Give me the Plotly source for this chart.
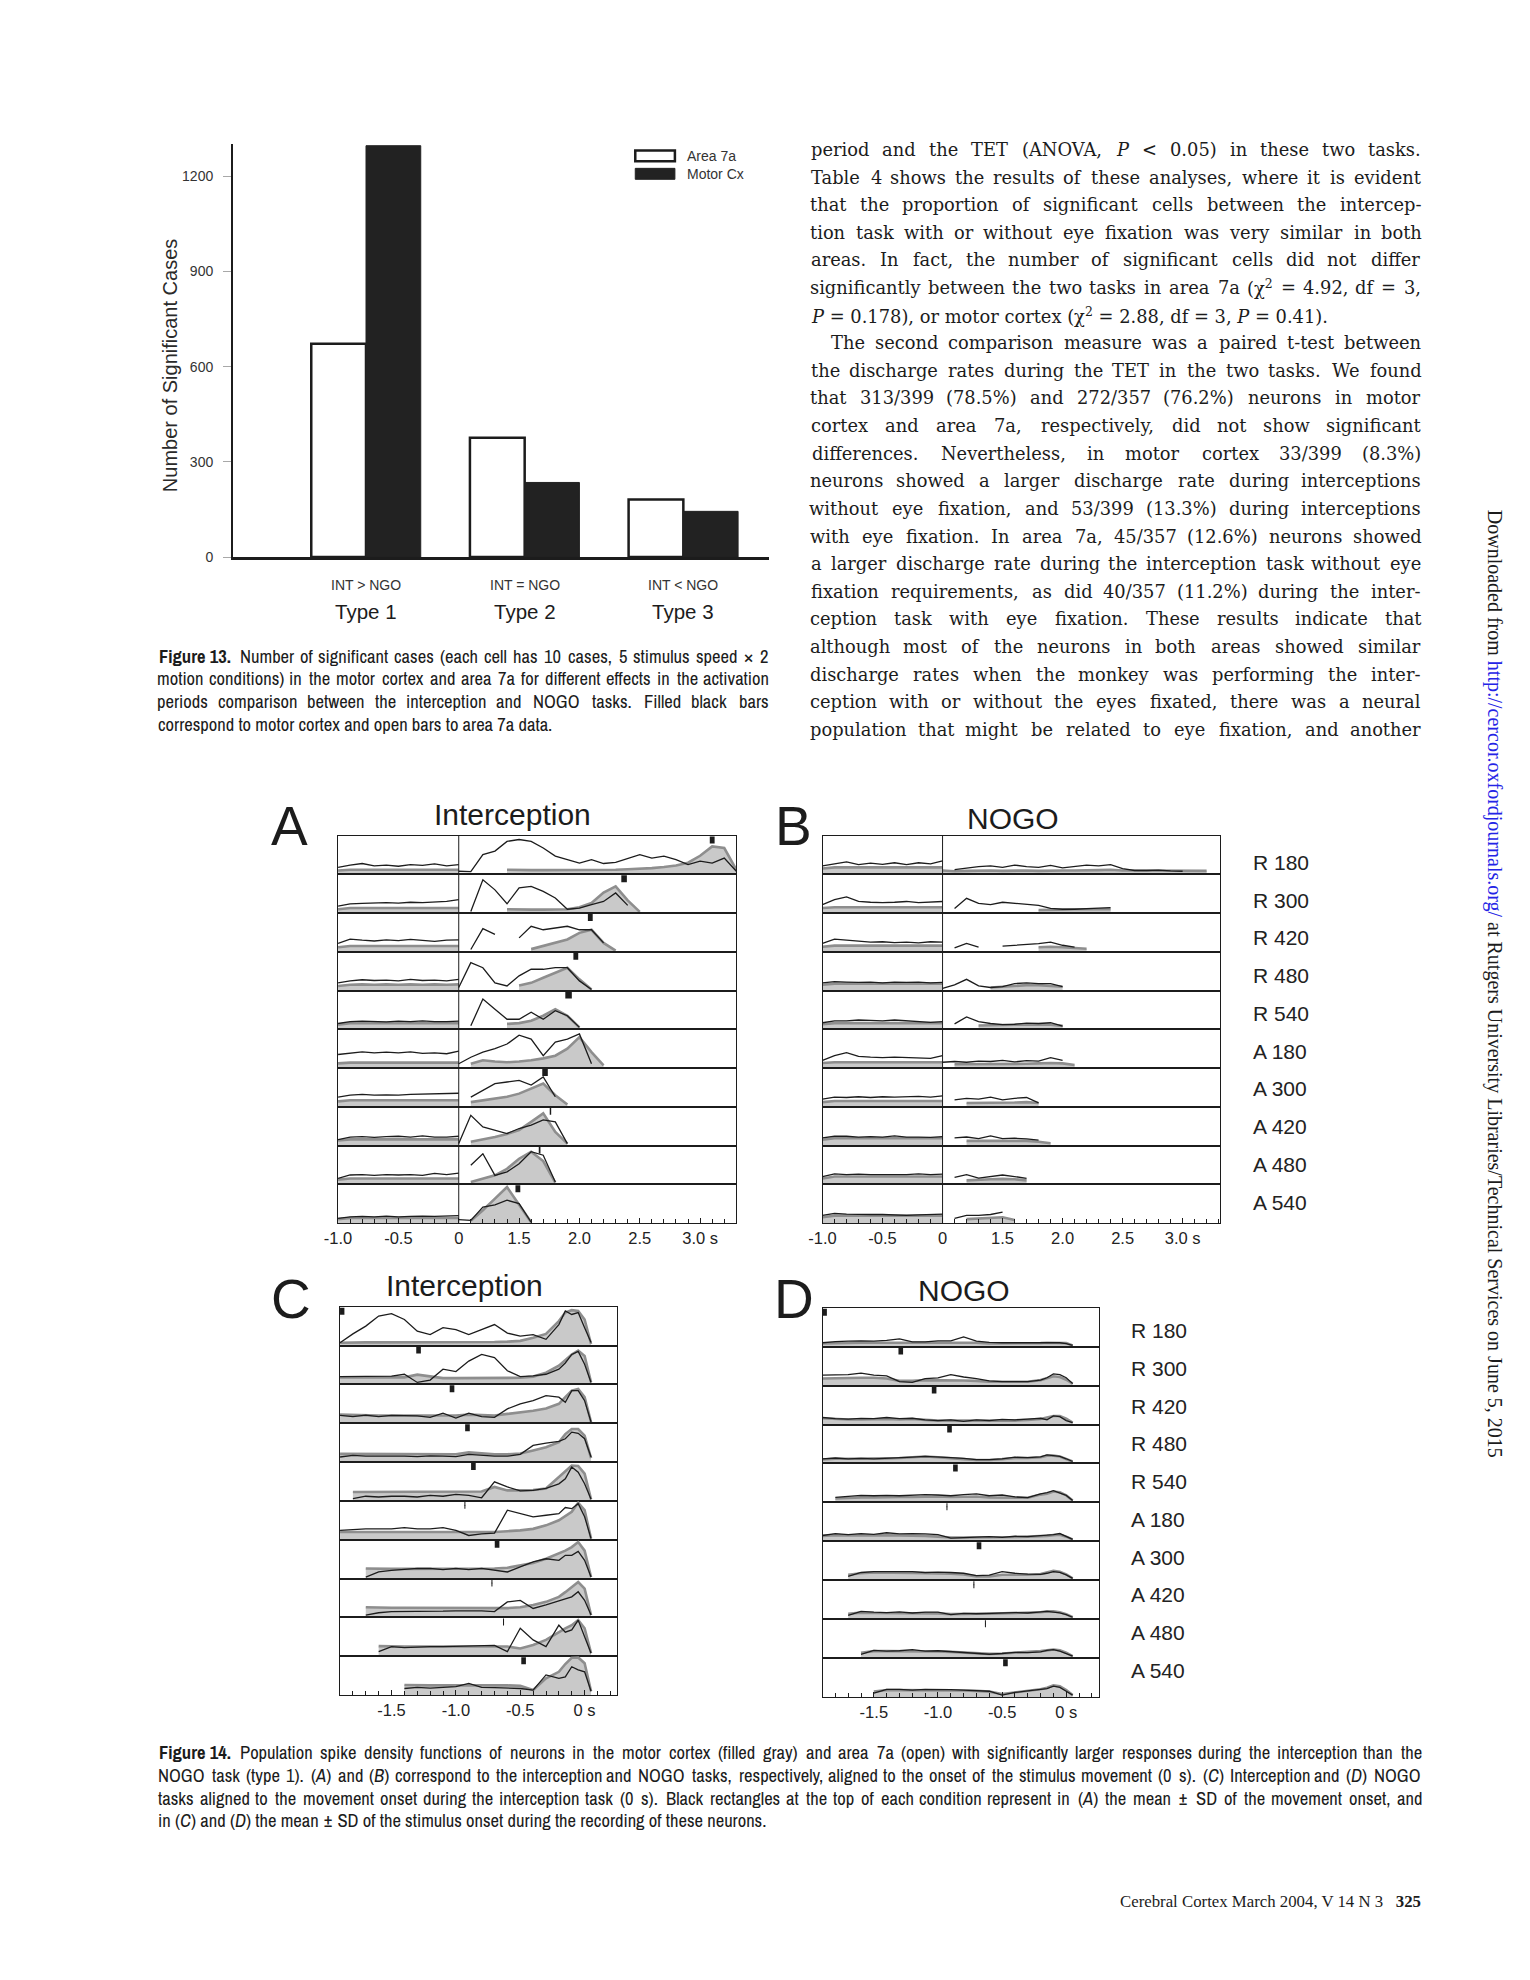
import os
import re
import struct

import plotly.graph_objects as go

W, H = 1530, 1980
PAGE_MARGIN = 8          # default body margin of the html page
N = None

# ---------------- Figure 13: bar chart ----------------
TYPES = ["Type 1", "Type 2", "Type 3"]
CONTRASTS = ["INT > NGO", "INT = NGO", "INT < NGO"]
AREA_7A = [672, 376, 181]
MOTOR_CX = [1296, 235, 144]
Y_TICKS = [0, 300, 600, 900, 1200]

# ---------------- Figure 14: spike density functions ----------------
CONDITIONS = ["R 180", "R 300", "R 420", "R 480", "R 540",
              "A 180", "A 300", "A 420", "A 480", "A 540"]

# panels A/B: pre-stimulus segment (-1..0 s) and post segment (axis shown as 1.0..3.3 s)
AB_PRE_T = [-1.0, -0.9, -0.8, -0.7, -0.6, -0.5, -0.4, -0.3, -0.2, -0.1, 0.0]
AB_POST_T = [0.0, 0.1, 0.2, 0.3, 0.4, 0.5, 0.6, 0.7, 0.8, 0.9, 1.0, 1.1,
             1.2, 1.3, 1.4, 1.5, 1.6, 1.7, 1.8, 1.9, 2.0, 2.1, 2.2, 2.3]
AB_TICKS = [-1.0, -0.5, 0.0, 0.5, 1.0, 1.5, 2.0]
AB_TICK_TEXT = ["-1.0", "-0.5", "0", "1.5", "2.0", "2.5", "3.0 s"]

A_PRE_7A = [
    [0.18, 0.24, 0.28, 0.22, 0.24, 0.21, 0.25, 0.23, 0.27, 0.22, 0.25],
    [0.18, 0.24, 0.25, 0.26, 0.27, 0.26, 0.28, 0.27, 0.29, 0.30, 0.35],
    [0.22, 0.33, 0.30, 0.28, 0.31, 0.29, 0.32, 0.29, 0.27, 0.30, 0.31],
    [0.20, 0.25, 0.28, 0.26, 0.27, 0.25, 0.29, 0.26, 0.27, 0.25, 0.29],
    [0.15, 0.20, 0.21, 0.20, 0.19, 0.21, 0.20, 0.22, 0.20, 0.20, 0.21],
    [0.35, 0.38, 0.42, 0.39, 0.41, 0.39, 0.42, 0.38, 0.39, 0.37, 0.44],
    [0.25, 0.30, 0.32, 0.30, 0.31, 0.30, 0.32, 0.33, 0.34, 0.34, 0.35],
    [0.15, 0.22, 0.23, 0.21, 0.23, 0.24, 0.22, 0.25, 0.22, 0.22, 0.24],
    [0.15, 0.24, 0.25, 0.23, 0.25, 0.24, 0.25, 0.23, 0.28, 0.25, 0.29],
    [0.12, 0.16, 0.17, 0.16, 0.18, 0.16, 0.17, 0.18, 0.17, 0.18, 0.19],
]
A_PRE_MC = [
    [0.10, 0.12, 0.12, 0.12, 0.11, 0.12, 0.12, 0.11, 0.12, 0.12, 0.12],
    [0.10, 0.13, 0.13, 0.13, 0.13, 0.13, 0.13, 0.13, 0.13, 0.13, 0.13],
    [0.12, 0.15, 0.15, 0.15, 0.15, 0.15, 0.15, 0.15, 0.15, 0.15, 0.15],
    [0.12, 0.15, 0.16, 0.15, 0.16, 0.15, 0.16, 0.15, 0.16, 0.15, 0.16],
    [0.12, 0.16, 0.16, 0.16, 0.16, 0.16, 0.16, 0.16, 0.16, 0.16, 0.16],
    [0.12, 0.14, 0.14, 0.14, 0.14, 0.14, 0.14, 0.14, 0.14, 0.14, 0.14],
    [0.14, 0.17, 0.17, 0.17, 0.17, 0.17, 0.17, 0.17, 0.17, 0.17, 0.17],
    [0.13, 0.16, 0.16, 0.16, 0.16, 0.16, 0.16, 0.16, 0.16, 0.16, 0.16],
    [0.12, 0.15, 0.15, 0.15, 0.15, 0.15, 0.15, 0.15, 0.15, 0.15, 0.15],
    [0.10, 0.13, 0.13, 0.13, 0.13, 0.13, 0.13, 0.13, 0.13, 0.13, 0.13],
]
A_POST_7A = [
    [0.08, 0.07, 0.51, 0.60, 0.85, 0.90, 0.85, 0.68, 0.47, 0.38, 0.29, 0.38,
     0.28, 0.31, 0.42, 0.51, 0.42, 0.47, 0.38, 0.25, 0.34, 0.29, 0.42, 0.08],
    [N, 0.04, 0.86, 0.60, 0.24, 0.65, 0.69, 0.56, 0.39, 0.10, 0.13, 0.22, 0.30, 0.52, 0.20],
    [N, 0.06, 0.60, 0.45, N, 0.36, 0.66, 0.57, 0.62, 0.66, 0.57, 0.57, 0.23],
    [0.08, 0.72, 0.59, 0.20, 0.12, 0.38, 0.55, 0.55, 0.59, 0.59, 0.25, 0.03],
    [N, 0.09, 0.78, 0.52, 0.26, 0.26, 0.44, 0.26, 0.48, 0.35, 0.05],
    [0.11, 0.28, 0.41, 0.50, 0.62, 0.85, 0.75, 0.32, 0.67, 0.75, 0.88, 0.11],
    [N, 0.25, 0.43, 0.60, 0.64, 0.68, 0.56, 0.77, 0.26],
    [0.05, 0.78, 0.48, 0.40, 0.31, 0.44, 0.53, 0.66, 0.61, 0.05],
    [N, 0.49, 0.79, 0.23, 0.32, 0.53, 0.84, 0.75, 0.06],
    [0.09, 0.07, 0.41, 0.47, 0.59, 0.50, 0.02],
]
A_POST_MC = [
    [N, N, N, N, 0.12, 0.11, 0.11, 0.11, 0.11, 0.11, 0.11, 0.12,
     0.12, 0.12, 0.13, 0.14, 0.16, 0.19, 0.23, 0.30, 0.48, 0.72, 0.68, 0.12],
    [N, N, N, N, 0.10, 0.09, 0.09, 0.09, 0.09, 0.10, 0.15, 0.26, 0.53, 0.69, 0.33, 0.03],
    [N, N, N, N, N, N, 0.07, 0.15, 0.23, 0.32, 0.49, 0.57, 0.23, 0.03],
    [N, N, N, N, N, 0.13, 0.20, 0.33, 0.46, 0.59, 0.29, 0.03],
    [N, N, N, N, 0.14, 0.16, 0.22, 0.35, 0.52, 0.35, 0.05],
    [N, 0.11, 0.20, 0.17, 0.15, 0.17, 0.20, 0.25, 0.32, 0.50, 0.80, 0.41, 0.07],
    [N, 0.12, 0.17, 0.21, 0.26, 0.34, 0.47, 0.60, 0.30, 0.06],
    [N, 0.10, 0.16, 0.22, 0.30, 0.40, 0.61, 0.83, 0.35, 0.05],
    [N, 0.06, 0.15, 0.23, 0.40, 0.66, 0.84, 0.60, 0.04],
    [N, 0.06, 0.33, 0.63, 0.93, 0.47, 0.02],
]
A_MOVE_ONSET = [2.10, 1.37, 1.09, 0.97, 0.91, N, 0.715, 0.76, 0.67, 0.49]
A_MOVE_SD = [0.02, 0.023, 0.02, 0.02, 0.027, N, 0.023, 0.006, 0.007, 0.02]

B_PRE_7A = [
    [0.22, 0.27, 0.32, 0.25, 0.29, 0.26, 0.30, 0.25, 0.30, 0.27, 0.35],
    [0.22, 0.35, 0.42, 0.30, 0.28, 0.27, 0.28, 0.30, 0.27, 0.28, 0.30],
    [0.22, 0.33, 0.30, 0.27, 0.25, 0.26, 0.24, 0.25, 0.23, 0.26, 0.25],
    [0.20, 0.23, 0.22, 0.21, 0.22, 0.20, 0.22, 0.21, 0.22, 0.20, 0.21],
    [0.17, 0.22, 0.22, 0.24, 0.23, 0.22, 0.24, 0.22, 0.20, 0.18, 0.20],
    [0.20, 0.32, 0.40, 0.30, 0.28, 0.27, 0.28, 0.27, 0.26, 0.25, 0.32],
    [0.20, 0.25, 0.24, 0.26, 0.24, 0.26, 0.25, 0.26, 0.27, 0.25, 0.28],
    [0.20, 0.24, 0.24, 0.22, 0.23, 0.22, 0.25, 0.22, 0.22, 0.21, 0.23],
    [0.20, 0.27, 0.25, 0.26, 0.25, 0.25, 0.26, 0.25, 0.27, 0.25, 0.26],
    [0.20, 0.25, 0.23, 0.22, 0.22, 0.22, 0.21, 0.20, 0.21, 0.22, 0.23],
]
B_PRE_MC = [
    [0.15, 0.18, 0.18, 0.18, 0.18, 0.18, 0.18, 0.18, 0.18, 0.18, 0.18],
    [0.13, 0.15, 0.15, 0.15, 0.15, 0.15, 0.15, 0.15, 0.15, 0.15, 0.15],
    [0.13, 0.16, 0.16, 0.16, 0.16, 0.16, 0.16, 0.16, 0.16, 0.16, 0.16],
    [0.15, 0.18, 0.18, 0.18, 0.18, 0.18, 0.18, 0.18, 0.18, 0.18, 0.18],
    [0.13, 0.16, 0.16, 0.16, 0.16, 0.16, 0.16, 0.16, 0.16, 0.16, 0.16],
    [0.13, 0.15, 0.15, 0.15, 0.15, 0.15, 0.15, 0.15, 0.15, 0.15, 0.15],
    [0.12, 0.15, 0.15, 0.15, 0.15, 0.15, 0.15, 0.15, 0.15, 0.15, 0.15],
    [0.15, 0.19, 0.19, 0.19, 0.19, 0.19, 0.19, 0.19, 0.19, 0.19, 0.19],
    [0.15, 0.20, 0.20, 0.20, 0.20, 0.20, 0.20, 0.20, 0.20, 0.20, 0.20],
    [0.15, 0.19, 0.19, 0.19, 0.19, 0.19, 0.19, 0.19, 0.19, 0.19, 0.19],
]
B_POST_7A = [
    [N, 0.12, 0.16, 0.20, 0.22, 0.18, 0.24, 0.20, 0.18, 0.23, 0.17, 0.20,
     0.24, 0.22, 0.25, 0.15, 0.10, 0.10, 0.11, 0.09, 0.08],
    [N, 0.12, 0.38, 0.25, 0.22, 0.28, 0.25, 0.22, 0.20, 0.12, 0.10, 0.10, 0.12, 0.13, 0.14],
    [N, 0.10, 0.22, 0.12, N, 0.15, 0.17, 0.20, 0.21, 0.25, 0.17, 0.12],
    [0.06, 0.15, 0.29, 0.12, 0.08, 0.10, 0.18, 0.20, 0.18, 0.18, 0.10],
    [N, 0.14, 0.32, 0.20, 0.15, 0.12, 0.13, 0.16, 0.15, 0.17, 0.08],
    [0.15, 0.17, 0.15, 0.18, 0.17, 0.20, 0.16, 0.19, 0.18, 0.27, 0.20],
    [N, 0.18, 0.22, 0.20, 0.25, 0.18, 0.22, 0.24, 0.10],
    [N, 0.20, 0.22, 0.18, 0.25, 0.18, 0.19, 0.17, 0.14],
    [N, 0.18, 0.25, 0.16, 0.20, 0.24, 0.20, 0.15],
    [N, 0.12, 0.20, 0.20, 0.22, 0.28],
]
B_POST_MC = [
    [0.10, 0.08, 0.09, 0.10, 0.10, 0.09, 0.10, 0.10, 0.09, 0.10, 0.10, 0.10,
     0.10, 0.11, 0.12, 0.10, 0.10, 0.10, 0.10, 0.10, 0.09, 0.09, 0.09],
    [N, N, N, N, N, N, N, N, 0.08, 0.08, 0.09, 0.10, 0.10, 0.11, 0.10],
    [N, N, N, N, N, N, N, N, 0.12, 0.13, 0.12, 0.10, 0.08],
    [N, N, N, N, 0.08, 0.10, 0.12, 0.14, 0.14, 0.12, 0.10],
    [N, N, N, 0.10, 0.10, 0.11, 0.12, 0.12, 0.12, 0.12, 0.09],
    [N, 0.10, 0.10, 0.10, 0.11, 0.10, 0.11, 0.11, 0.12, 0.13, 0.12, 0.08],
    [N, N, 0.10, 0.10, 0.10, 0.11, 0.11, 0.12, 0.10],
    [N, N, 0.12, 0.12, 0.13, 0.13, 0.12, 0.12, 0.10, 0.06],
    [N, N, 0.10, 0.12, 0.13, 0.14, 0.13, 0.10],
    [N, N, 0.10, 0.12, 0.13, 0.15, 0.08],
]

# panels C/D: aligned to movement onset (0 s)
CD_T = [-1.9, -1.8, -1.7, -1.6, -1.5, -1.4, -1.3, -1.2, -1.1, -1.0, -0.9, -0.8,
        -0.7, -0.6, -0.5, -0.4, -0.3, -0.2, -0.15, -0.1, -0.05, 0.0, 0.05]
CD_TICKS = [-1.5, -1.0, -0.5, 0.0]
CD_TICK_TEXT = ["-1.5", "-1.0", "-0.5", "0 s"]

C_7A = [
    [0.07, 0.30, 0.50, 0.76, 0.82, 0.67, 0.37, 0.28, 0.46, 0.41, 0.28, 0.41,
     0.54, 0.32, 0.24, 0.28, 0.16, 0.54, 0.89, 0.80, 0.85, 0.46, 0.08],
    [0.20, 0.20, 0.21, 0.21, 0.21, 0.26, 0.05, 0.11, 0.39, 0.33, 0.60, 0.77,
     0.69, 0.35, 0.20, 0.22, 0.26, 0.39, 0.55, 0.77, 0.85, 0.52, 0.05],
    [0.20, 0.17, 0.21, 0.17, 0.20, 0.19, 0.19, 0.15, 0.26, 0.13, 0.26, 0.17,
     0.15, 0.37, 0.50, 0.58, 0.71, 0.67, 0.54, 0.84, 0.84, 0.58, 0.03],
    [0.13, 0.17, 0.15, 0.15, 0.16, 0.15, 0.14, 0.16, 0.15, 0.14, 0.20, 0.17,
     0.15, 0.15, 0.20, 0.43, 0.49, 0.53, 0.60, 0.77, 0.74, 0.60, 0.13],
    [N, 0.06, 0.12, 0.10, 0.12, 0.12, 0.10, 0.14, 0.12, 0.17, 0.14, 0.08,
     0.49, 0.36, 0.26, 0.27, 0.32, 0.44, 0.57, 0.87, 0.74, 0.44, 0.04],
    [0.24, 0.26, 0.28, 0.28, 0.28, 0.31, 0.28, 0.28, 0.31, 0.24, 0.11, 0.15,
     0.17, 0.76, 0.67, 0.59, 0.63, 0.67, 0.83, 0.80, 0.93, 0.59, 0.03],
    [N, N, 0.04, 0.17, 0.21, 0.23, 0.26, 0.26, 0.23, 0.26, 0.23, 0.26,
     0.21, 0.17, 0.30, 0.43, 0.51, 0.47, 0.60, 0.60, 0.70, 0.47, 0.04],
    [N, N, 0.06, 0.12, 0.15, 0.15, 0.16, 0.16, 0.16, 0.17, 0.17, 0.17,
     0.15, 0.40, 0.44, 0.23, 0.32, 0.44, 0.48, 0.53, 0.66, 0.44, 0.06],
    [N, N, N, 0.12, 0.25, 0.22, 0.24, 0.25, 0.25, 0.26, 0.26, 0.28,
     0.28, 0.12, 0.72, 0.42, 0.25, 0.80, 0.62, 0.68, 0.93, 0.50, 0.08],
    [N, N, N, N, N, 0.17, 0.20, 0.18, 0.20, 0.22, 0.30, 0.20,
     0.19, 0.18, 0.17, 0.13, 0.52, 0.43, 0.47, 0.73, 0.65, 0.60, 0.10],
]
C_MC = [
    [0.07, 0.08, 0.08, 0.08, 0.08, 0.08, 0.08, 0.08, 0.08, 0.08, 0.08, 0.09,
     0.09, 0.10, 0.12, 0.20, 0.30, 0.63, 0.85, 0.91, 0.89, 0.67, 0.04],
    [0.18, 0.18, 0.18, 0.18, 0.18, 0.18, 0.25, 0.20, 0.16, 0.16, 0.16, 0.16,
     0.16, 0.16, 0.17, 0.20, 0.30, 0.48, 0.62, 0.77, 0.87, 0.73, 0.05],
    [0.22, 0.21, 0.20, 0.20, 0.20, 0.20, 0.20, 0.20, 0.21, 0.20, 0.22, 0.21,
     0.20, 0.24, 0.28, 0.32, 0.38, 0.50, 0.67, 0.84, 0.88, 0.67, 0.03],
    [0.21, 0.21, 0.20, 0.20, 0.21, 0.20, 0.20, 0.20, 0.21, 0.20, 0.25, 0.22,
     0.20, 0.20, 0.22, 0.30, 0.38, 0.51, 0.72, 0.85, 0.85, 0.68, 0.10],
    [N, 0.23, 0.23, 0.23, 0.23, 0.24, 0.23, 0.23, 0.24, 0.23, 0.23, 0.24,
     0.36, 0.27, 0.27, 0.28, 0.32, 0.62, 0.75, 0.91, 0.90, 0.70, 0.04],
    [0.20, 0.20, 0.20, 0.20, 0.20, 0.20, 0.20, 0.20, 0.20, 0.20, 0.20, 0.20,
     0.20, 0.22, 0.24, 0.28, 0.37, 0.50, 0.60, 0.72, 0.95, 0.76, 0.03],
    [N, N, 0.26, 0.25, 0.25, 0.25, 0.25, 0.25, 0.25, 0.25, 0.25, 0.25,
     0.26, 0.28, 0.34, 0.40, 0.51, 0.64, 0.72, 0.81, 0.94, 0.72, 0.04],
    [N, N, 0.26, 0.25, 0.25, 0.25, 0.25, 0.25, 0.25, 0.25, 0.25, 0.25,
     0.25, 0.24, 0.26, 0.32, 0.40, 0.53, 0.65, 0.79, 0.91, 0.74, 0.06],
    [N, N, N, 0.26, 0.25, 0.25, 0.25, 0.25, 0.25, 0.25, 0.25, 0.25,
     0.25, 0.25, 0.20, 0.29, 0.42, 0.63, 0.72, 0.80, 0.93, 0.72, 0.08],
    [N, N, N, N, N, 0.26, 0.25, 0.25, 0.25, 0.25, 0.26, 0.25,
     0.25, 0.25, 0.24, 0.13, 0.43, 0.60, 0.80, 0.96, 0.97, 0.82, 0.10],
]
D_7A = [
    [0.10, 0.13, 0.14, 0.15, 0.14, 0.16, 0.20, 0.12, 0.12, 0.15, 0.15, 0.25,
     0.14, 0.11, 0.10, 0.10, 0.10, 0.11, 0.11, 0.11, 0.10, 0.08, 0.03],
    [0.27, 0.27, 0.28, 0.32, 0.27, 0.25, 0.10, 0.08, 0.18, 0.20, 0.28, 0.22,
     0.18, 0.12, 0.10, 0.10, 0.10, 0.14, 0.20, 0.30, 0.28, 0.20, 0.05],
    [0.18, 0.15, 0.14, 0.16, 0.15, 0.18, 0.15, 0.16, 0.12, 0.10, 0.12, 0.08,
     0.12, 0.10, 0.13, 0.12, 0.14, 0.16, 0.12, 0.22, 0.20, 0.10, 0.05],
    [0.12, 0.14, 0.12, 0.13, 0.12, 0.13, 0.14, 0.16, 0.18, 0.17, 0.15, 0.13,
     0.10, 0.10, 0.12, 0.16, 0.15, 0.17, 0.22, 0.20, 0.18, 0.12, 0.05],
    [N, 0.13, 0.16, 0.18, 0.17, 0.18, 0.17, 0.19, 0.20, 0.19, 0.17, 0.20,
     0.22, 0.17, 0.19, 0.14, 0.12, 0.22, 0.25, 0.30, 0.25, 0.18, 0.05],
    [0.15, 0.20, 0.17, 0.20, 0.18, 0.22, 0.19, 0.20, 0.19, 0.17, 0.08, 0.09,
     0.10, 0.12, 0.10, 0.13, 0.12, 0.14, 0.15, 0.17, 0.20, 0.12, 0.05],
    [N, N, 0.10, 0.20, 0.22, 0.22, 0.23, 0.22, 0.20, 0.21, 0.20, 0.18,
     0.12, 0.13, 0.22, 0.18, 0.16, 0.15, 0.18, 0.22, 0.20, 0.14, 0.05],
    [N, N, 0.10, 0.20, 0.18, 0.17, 0.19, 0.16, 0.18, 0.18, 0.12, 0.15,
     0.14, 0.15, 0.16, 0.17, 0.16, 0.18, 0.20, 0.18, 0.16, 0.12, 0.05],
    [N, N, N, 0.10, 0.20, 0.18, 0.19, 0.22, 0.18, 0.19, 0.17, 0.15,
     0.12, 0.10, 0.12, 0.15, 0.14, 0.16, 0.20, 0.22, 0.18, 0.12, 0.05],
    [N, N, N, N, 0.10, 0.20, 0.20, 0.18, 0.20, 0.20, 0.19, 0.18,
     0.17, 0.15, 0.05, 0.12, 0.16, 0.20, 0.22, 0.28, 0.25, 0.15, 0.05],
]
D_MC = [
    [0.08, 0.09, 0.10, 0.10, 0.10, 0.10, 0.10, 0.10, 0.09, 0.09, 0.10, 0.10,
     0.10, 0.08, 0.08, 0.08, 0.08, 0.09, 0.10, 0.10, 0.10, 0.09, 0.03],
    [0.18, 0.19, 0.20, 0.20, 0.20, 0.18, 0.12, 0.12, 0.14, 0.14, 0.14, 0.13,
     0.12, 0.10, 0.10, 0.10, 0.10, 0.14, 0.20, 0.24, 0.22, 0.15, 0.05],
    [0.16, 0.14, 0.13, 0.13, 0.14, 0.14, 0.13, 0.14, 0.12, 0.10, 0.10, 0.10,
     0.10, 0.10, 0.10, 0.10, 0.12, 0.14, 0.18, 0.22, 0.22, 0.15, 0.05],
    [0.10, 0.12, 0.12, 0.12, 0.12, 0.13, 0.14, 0.16, 0.18, 0.16, 0.13, 0.11,
     0.09, 0.09, 0.11, 0.14, 0.14, 0.16, 0.20, 0.20, 0.18, 0.12, 0.05],
    [N, 0.10, 0.12, 0.13, 0.13, 0.14, 0.14, 0.14, 0.15, 0.15, 0.14, 0.14,
     0.15, 0.13, 0.13, 0.12, 0.12, 0.20, 0.22, 0.28, 0.26, 0.18, 0.05],
    [0.14, 0.16, 0.15, 0.16, 0.15, 0.16, 0.15, 0.15, 0.14, 0.12, 0.10, 0.10,
     0.10, 0.10, 0.10, 0.11, 0.12, 0.13, 0.14, 0.16, 0.17, 0.12, 0.05],
    [N, N, 0.14, 0.18, 0.20, 0.20, 0.20, 0.19, 0.18, 0.18, 0.17, 0.15,
     0.10, 0.10, 0.14, 0.14, 0.14, 0.16, 0.20, 0.24, 0.22, 0.15, 0.05],
    [N, N, 0.14, 0.17, 0.16, 0.16, 0.16, 0.15, 0.15, 0.15, 0.13, 0.14,
     0.14, 0.14, 0.15, 0.16, 0.16, 0.18, 0.20, 0.20, 0.18, 0.13, 0.05],
    [N, N, N, 0.14, 0.18, 0.18, 0.18, 0.18, 0.17, 0.17, 0.16, 0.14,
     0.12, 0.11, 0.12, 0.14, 0.15, 0.18, 0.20, 0.22, 0.20, 0.14, 0.05],
    [N, N, N, N, 0.14, 0.18, 0.18, 0.18, 0.18, 0.18, 0.17, 0.17,
     0.16, 0.14, 0.08, 0.12, 0.16, 0.20, 0.24, 0.30, 0.28, 0.18, 0.05],
]
STIM_ONSET = [-1.885, -1.29, -1.03, -0.91, -0.864, -0.93, -0.68, -0.72, -0.63, -0.474]
STIM_SD = [0.019, 0.018, 0.018, 0.018, 0.018, 0.004, 0.018, 0.004, 0.004, 0.018]

# ---------------- page text ----------------
FIG13_CAPTION = [
    "<b>Figure&nbsp;13.</b> Number of significant cases (each cell has 10 cases, 5 stimulus speed × 2",
    "motion conditions) in the motor cortex and area 7a for different effects in the activation",
    "periods comparison between the interception and NOGO tasks. Filled black bars",
    "correspond to motor cortex and open bars to area 7a data.",
]
BODY_TEXT = [
    "period and the TET (ANOVA, <i>P</i> &lt; 0.05) in these two tasks.",
    "Table 4 shows the results of these analyses, where it is evident",
    "that the proportion of significant cells between the intercep-",
    "tion task with or without eye fixation was very similar in both",
    "areas. In fact, the number of significant cells did not differ",
    "significantly between the two tasks in area 7a (χ<sup>2</sup> = 4.92, df = 3,",
    "<i>P</i> = 0.178), or motor cortex (χ<sup>2</sup> = 2.88, df = 3, <i>P</i> = 0.41).",
    "The second comparison measure was a paired t-test between",
    "the discharge rates during the TET in the two tasks. We found",
    "that 313/399 (78.5%) and 272/357 (76.2%) neurons in motor",
    "cortex and area 7a, respectively, did not show significant",
    "differences. Nevertheless, in motor cortex 33/399 (8.3%)",
    "neurons showed a larger discharge rate during interceptions",
    "without eye fixation, and 53/399 (13.3%) during interceptions",
    "with eye fixation. In area 7a, 45/357 (12.6%) neurons showed",
    "a larger discharge rate during the interception task without eye",
    "fixation requirements, as did 40/357 (11.2%) during the inter-",
    "ception task with eye fixation. These results indicate that",
    "although most of the neurons in both areas showed similar",
    "discharge rates when the monkey was performing the inter-",
    "ception with or without the eyes fixated, there was a neural",
    "population that might be related to eye fixation, and another",
]
FIG14_CAPTION = [
    "<b>Figure&nbsp;14.</b> Population spike density functions of neurons in the motor cortex (filled gray) and area 7a (open) with significantly larger responses during the interception than the",
    "NOGO task (type 1). (<i>A</i>) and (<i>B</i>) correspond to the interception and NOGO tasks, respectively, aligned to the onset of the stimulus movement (0 s). (<i>C</i>) Interception and (<i>D</i>) NOGO",
    "tasks aligned to the movement onset during the interception task (0 s). Black rectangles at the top of each condition represent in (<i>A</i>) the mean ± SD of the movement onset, and",
    "in (<i>C</i>) and (<i>D</i>) the mean ± SD of the stimulus onset during the recording of these neurons.",
]


# ---------------- font metrics (for justified text lines) ----------------
def list_font_files():
    found = {}
    for root in ("/usr/share/fonts", "/usr/local/share/fonts", os.path.expanduser("~/.fonts")):
        for dirpath, _, files in os.walk(root):
            for f in files:
                found.setdefault(f, os.path.join(dirpath, f))
    return found


def advance_widths(path):
    """Return a char -> advance width (em) function read from a TrueType file."""
    try:
        data = open(path, "rb").read()
        num = struct.unpack(">H", data[4:6])[0]
        tables = {}
        for i in range(num):
            tag, _, off, _ = struct.unpack(">4sIII", data[12 + 16 * i:28 + 16 * i])
            tables[tag.decode("latin-1")] = off
        upem = struct.unpack(">H", data[tables["head"] + 18:tables["head"] + 20])[0]
        nhm = struct.unpack(">H", data[tables["hhea"] + 34:tables["hhea"] + 36])[0]
        hm = tables["hmtx"]
        adv = [struct.unpack(">H", data[hm + 4 * i:hm + 4 * i + 2])[0] for i in range(nhm)]
        cm = tables["cmap"]
        sub = None
        for i in range(struct.unpack(">H", data[cm + 2:cm + 4])[0]):
            pid, eid, off = struct.unpack(">HHI", data[cm + 4 + 8 * i:cm + 12 + 8 * i])
            if pid == 3 and eid == 1:
                sub = cm + off
        seg2 = struct.unpack(">H", data[sub + 6:sub + 8])[0]
        seg = seg2 // 2
        ends = struct.unpack(">%dH" % seg, data[sub + 14:sub + 14 + seg2])
        starts = struct.unpack(">%dH" % seg, data[sub + 16 + seg2:sub + 16 + 2 * seg2])
        deltas = struct.unpack(">%dh" % seg, data[sub + 16 + 2 * seg2:sub + 16 + 3 * seg2])
        ro = sub + 16 + 3 * seg2
        offs = struct.unpack(">%dH" % seg, data[ro:ro + seg2])
    except Exception:
        return None

    def width(ch):
        c = ord(ch)
        g = 0
        for i in range(seg):
            if ends[i] >= c:
                if starts[i] <= c:
                    if offs[i] == 0:
                        g = (c + deltas[i]) & 0xFFFF
                    else:
                        a = ro + 2 * i + offs[i] + 2 * (c - starts[i])
                        g = struct.unpack(">H", data[a:a + 2])[0]
                        g = (g + deltas[i]) & 0xFFFF if g else 0
                break
        return adv[min(g, nhm - 1)] / upem
    return width


FONT_FILES = list_font_files()


def pick_font(candidates, fallback_family, fallback_em):
    for fname, family in candidates:
        if fname in FONT_FILES:
            fn = advance_widths(FONT_FILES[fname])
            if fn is not None:
                return family, fn
    return fallback_family, (lambda ch: fallback_em)


SANS = "Liberation Sans, Arial, sans-serif"
TIMES = "Liberation Serif, Times New Roman, serif"
SERIF, SERIF_W = pick_font([("DejaVuSerif.ttf", "DejaVu Serif"),
                            ("LiberationSerif-Regular.ttf", "Liberation Serif")],
                           "serif", 0.55)
NARROW, NARROW_W = pick_font([("ArchivoNarrow[wght].ttf", "Archivo Narrow"),
                              ("LiberationSansNarrow-Regular.ttf", "Liberation Sans Narrow"),
                              ("DejaVuSansCondensed.ttf", "DejaVu Sans Condensed")],
                             "sans-serif", 0.52)

INK = "#1c1c1c"
GRAY_FILL = "#c9c9c9"
GRAY_LINE = "#8e8e8e"
FW, FH = W - 2 * PAGE_MARGIN, H - 2 * PAGE_MARGIN


def fx(x):
    return (x - PAGE_MARGIN) / FW


def fy(y):
    return 1 - (y - PAGE_MARGIN) / FH


fig = go.Figure()
layout = {}
annotations = []
shapes = []


def note(text, x, y, size, family=SANS, xanchor="center", yanchor="middle", angle=0, color=INK):
    annotations.append(dict(text=text, x=fx(x), y=fy(y), xref="paper", yref="paper",
                            xanchor=xanchor, yanchor=yanchor, showarrow=False, textangle=angle,
                            borderpad=0, borderwidth=0,
                            font=dict(family=family, size=size, color=color)))


def word_width(word, size, wfn):
    # glyph advances are snapped to whole pixels by the browser
    sup = sum(round(0.7 * size * wfn(ch)) for s in re.findall(r"<sup>(.*?)</sup>", word)
              for ch in s)
    scale = 1.09 if "<b>" in word else 1.0
    plain = re.sub(r"<[^>]+>", "", re.sub(r"<sup>.*?</sup>", "", word))
    plain = plain.replace("&nbsp;", " ").replace("&lt;", "<").replace("&gt;", ">")
    return sum(round(scale * size * wfn(ch)) for ch in plain) + sup


def block_size(lines, justified, x0, x1, cap, wfn, space=1.0, fill=0.985):
    size = cap
    for line, just in zip(lines, justified):
        if just:
            words = line.split()
            natural = sum(word_width(w, 20.0, wfn) for w in words) / 20.0 \
                + (len(words) - 1) * wfn(" ") * space
            size = min(size, fill * (x1 - x0) / natural)
    return size


def text_block(lines, justified, starts, x1, y0, dy, size, family, wfn):
    """Justified lines: every word is centred on its computed slot so that
    width estimation errors never accumulate along the line."""
    for i, (line, just) in enumerate(zip(lines, justified)):
        y = y0 + dy * i
        x0 = starts[i]
        if not just:
            note(line, x0, y, size, family, xanchor="left")
            continue
        words = line.split()
        widths = [word_width(w, size, wfn) for w in words]
        gap = (x1 - x0 - sum(widths)) / (len(words) - 1)
        for k, w in enumerate(words):
            centre = x0 + sum(widths[:k]) + k * gap + widths[k] / 2
            note(w, centre, y, size, family, xanchor="center")


# ---------------- Figure 13 ----------------
fig.add_trace(go.Bar(x=TYPES, y=AREA_7A, width=0.345, offset=-0.345,
                     marker=dict(color="white", line=dict(color=INK, width=2.5)),
                     xaxis="x", yaxis="y", showlegend=False))
fig.add_trace(go.Bar(x=TYPES, y=MOTOR_CX, width=0.345, offset=0,
                     marker=dict(color="#222222", line=dict(color="#222222", width=1)),
                     xaxis="x", yaxis="y", showlegend=False))
layout["xaxis"] = dict(domain=[fx(221), fx(762)], type="category", range=[-0.838, 2.54],
                       showline=True, linecolor=INK, linewidth=2.5, showticklabels=False,
                       ticks="", showgrid=False, zeroline=False, anchor="y")
layout["yaxis"] = dict(domain=[fy(559.3), fy(145)], range=[0, 1300], showline=True,
                       linecolor=INK, linewidth=2, tickvals=Y_TICKS, ticks="outside",
                       ticklen=8, tickcolor="#a8a8a8", ticklabelstandoff=7,
                       showgrid=False, zeroline=False,
                       tickfont=dict(family=SANS, size=14, color="#333333"), anchor="x")
for t, c in zip(TYPES, CONTRASTS):
    annotations.append(dict(text=c, x=t, xref="x", y=fy(577), yref="paper", showarrow=False,
                            font=dict(family=SANS, size=14, color="#333333")))
    annotations.append(dict(text=t, x=t, xref="x", y=fy(600), yref="paper", showarrow=False,
                            font=dict(family=SANS, size=20.5, color=INK)))
note("Number of Significant Cases", 157, 367, 20, angle=-90, color="#2a2a2a")
shapes.append(dict(type="rect", xref="paper", yref="paper", x0=fx(627), x1=fx(667),
                   y0=fy(162), y1=fy(151), fillcolor="white", line=dict(color=INK, width=2.5)))
shapes.append(dict(type="rect", xref="paper", yref="paper", x0=fx(627), x1=fx(667),
                   y0=fy(180), y1=fy(169), fillcolor="#222222", line=dict(color="#222222", width=1)))
note("Area 7a", 679, 157, 14, xanchor="left", color="#333333")
note("Motor Cx", 679, 175, 14, xanchor="left", color="#333333")

# ---------------- body text and captions ----------------
cap13_just = [True, True, True, False]
cap14_just = [True, True, True, False]
cap_size = min(block_size(FIG13_CAPTION, cap13_just, 145, 761, 21, NARROW_W, 1.15, 0.97),
               block_size(FIG14_CAPTION, cap14_just, 145, 1420, 21, NARROW_W, 1.15, 0.97))
text_block(FIG13_CAPTION, cap13_just, [145] * 4, 761, 659, 22.7, cap_size, NARROW, NARROW_W)
text_block(FIG14_CAPTION, cap14_just, [145] * 4, 1420, 1760, 22.7, cap_size, NARROW, NARROW_W)

body_just = [i != 6 for i in range(len(BODY_TEXT))]
body_starts = [825 if i == 7 else 804 for i in range(len(BODY_TEXT))]
body_size = min(block_size(BODY_TEXT, body_just, 825, 1420, 18.5, SERIF_W),
                block_size(BODY_TEXT, body_just, 804, 1420, 18.5, SERIF_W))
text_block(BODY_TEXT, body_just, body_starts, 1420, 150, 27.73, body_size, SERIF, SERIF_W)

# ---------------- Figure 14 panels ----------------
axis_no = [1]


def add_panel(left, right, top, bottom, xrange, segments, onset, onset_sd,
              tickvals, ticktext, divider):
    rows = len(CONDITIONS)
    row_h = (bottom - top) / rows
    first = axis_no[0] + 1
    for r in range(rows):
        axis_no[0] += 1
        n = axis_no[0]
        xa, ya = "x%d" % n, "y%d" % n
        last = r == rows - 1
        layout["xaxis%d" % n] = dict(
            domain=[fx(left), fx(right)], range=xrange, anchor=ya, showline=True, mirror=True,
            linecolor=INK, linewidth=1, showgrid=False, zeroline=False,
            showticklabels=last, tickmode="array", tickvals=tickvals, ticktext=ticktext,
            ticks="inside" if last else "", ticklen=5, tickcolor=INK,
            tickfont=dict(family=SANS, size=16.5, color="#222222"),
            minor=dict(dtick=0.1, tick0=0, ticks="inside" if last else "", ticklen=4,
                       tickcolor=INK, showgrid=False))
        layout["yaxis%d" % n] = dict(
            domain=[fy(top + (r + 1) * row_h), fy(top + r * row_h)], range=[0, 1], anchor=xa,
            showline=True, mirror=True, linecolor=INK, linewidth=1, showticklabels=False,
            ticks="", showgrid=False, zeroline=False)
        for t, black_rows, gray_rows in segments:
            gx = [tt for tt, v in zip(t, gray_rows[r]) if v is not None]
            gy = [v for v in gray_rows[r] if v is not None]
            fig.add_trace(go.Scatter(x=gx, y=gy, mode="lines", fill="tozeroy",
                                     fillcolor=GRAY_FILL, line=dict(color=GRAY_LINE, width=2.6),
                                     xaxis=xa, yaxis=ya, showlegend=False, hoverinfo="skip"))
            bx = list(t[:len(black_rows[r])])
            fig.add_trace(go.Scatter(x=bx, y=black_rows[r], mode="lines", connectgaps=False,
                                     line=dict(color=INK, width=1.3),
                                     xaxis=xa, yaxis=ya, showlegend=False, hoverinfo="skip"))
        if onset is not None and onset[r] is not None:
            fig.add_trace(go.Scatter(x=[onset[r]], y=[0.885], mode="markers",
                                     marker=dict(size=1, color=INK),
                                     error_x=dict(type="data", array=[onset_sd[r]], thickness=7,
                                                  width=0, color=INK),
                                     xaxis=xa, yaxis=ya, showlegend=False, hoverinfo="skip"))
    if divider:
        shapes.append(dict(type="line", xref="x%d" % first, yref="paper", x0=0, x1=0,
                           y0=fy(bottom), y1=fy(top), line=dict(color=INK, width=1)))


add_panel(327, 729, 839, 1228, [-1.0, 2.30],
          [(AB_PRE_T, A_PRE_7A, A_PRE_MC), (AB_POST_T, A_POST_7A, A_POST_MC)],
          A_MOVE_ONSET, A_MOVE_SD, AB_TICKS, AB_TICK_TEXT, True)
add_panel(816, 1217, 839, 1228, [-1.0, 2.31],
          [(AB_PRE_T, B_PRE_7A, B_PRE_MC), (AB_POST_T, B_POST_7A, B_POST_MC)],
          None, None, AB_TICKS, AB_TICK_TEXT, True)
add_panel(329, 609, 1312, 1702, [-1.9, 0.255], [(CD_T, C_7A, C_MC)],
          STIM_ONSET, STIM_SD, CD_TICKS, CD_TICK_TEXT, False)
add_panel(816, 1095, 1313, 1704, [-1.9, 0.255], [(CD_T, D_7A, D_MC)],
          STIM_ONSET, STIM_SD, CD_TICKS, CD_TICK_TEXT, False)

note("A", 278, 829, 55)
note("Interception", 503, 818, 30)
note("B", 787, 829, 55)
note("NOGO", 1008, 822, 30)
note("C", 280, 1304, 55)
note("Interception", 455, 1291, 30)
note("D", 787, 1304, 55)
note("NOGO", 959, 1296, 30)
for k, cond in enumerate(CONDITIONS):
    note(cond, 1250, 866 + 37.9 * k, 21, xanchor="left", color="#222222")
    note(cond, 1127, 1336 + 37.9 * k, 21, xanchor="left", color="#222222")

note("Cerebral Cortex March 2004, V 14 N 3&nbsp;&nbsp;&nbsp;<b>325</b>", 1420, 1909, 16.8,
     family=TIMES, xanchor="right")
note("Downloaded from <span style='color:#2424e6'>http://cercor.oxfordjournals.org/</span>"
     " at Rutgers University Libraries/Technical Services on June 5, 2015",
     1495, 988, 20, family=TIMES, angle=90)

fig.update_layout(width=FW, height=FH, margin=dict(l=0, r=0, t=0, b=0),
                  paper_bgcolor="white", plot_bgcolor="rgba(0,0,0,0)",
                  showlegend=False, hovermode=False, annotations=annotations, shapes=shapes,
                  **layout)
fig.write_html("out.html")
